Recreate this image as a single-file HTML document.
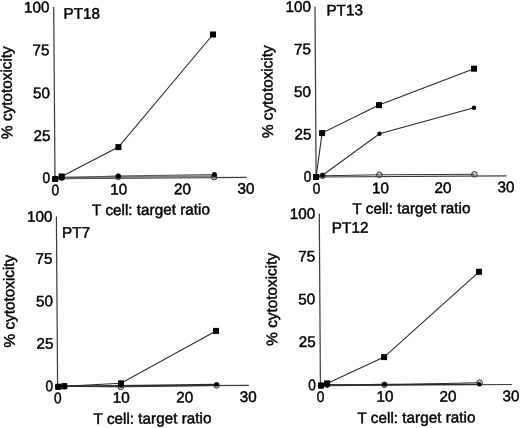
<!DOCTYPE html>
<html><head><meta charset="utf-8"><style>
html,body{margin:0;padding:0;background:#fff;}
svg{display:block;}
text{font-family:"Liberation Sans",sans-serif;font-size:15.3px;fill:#000;stroke:#000;stroke-width:0.45;}
.ax{stroke:#3a3a3a;stroke-width:1.2;fill:none;}
.ln{stroke:#2a2a2a;stroke-width:1.1;fill:none;}
.oc{fill:rgba(120,120,120,0.35);stroke:#333;stroke-width:1;}
.lno{stroke:#333;stroke-width:1.0;fill:none;}
.m{fill:#000;}
</style></head><body>
<svg width="520" height="428" viewBox="0 0 520 428">
<rect width="520" height="428" fill="#fff"/>
<defs><filter id="bl" x="0" y="0" width="1" height="1"><feGaussianBlur stdDeviation="0.35"/></filter></defs>
<g filter="url(#bl)">
<line x1="53.7" y1="7" x2="55" y2="178.8" class="ax"/>
<line x1="55" y1="178.7" x2="246.7" y2="177.4" class="ax"/>
<polyline points="55.2,178.6 61.6,177.6 118.3,176.9 214.1,176.3" class="lno" style="stroke-width:2.2;stroke:#808080"/>
<circle cx="55.2" cy="178.9" r="2.8" class="oc"/>
<circle cx="61.6" cy="177.6" r="2.8" class="oc"/>
<circle cx="118.3" cy="176.9" r="2.8" class="oc"/>
<circle cx="214.1" cy="177.2" r="2.8" class="oc"/>
<polyline points="55.2,178.6 61.6,178 118.3,176 214.4,174.5" class="ln" style="stroke:#555"/>
<circle cx="55.2" cy="178.6" r="2.5" class="m"/>
<circle cx="61.6" cy="178" r="2.5" class="m"/>
<circle cx="118.3" cy="176" r="2.5" class="m"/>
<circle cx="214.4" cy="174.5" r="2.5" class="m"/>
<polyline points="55.2,179 61.7,176.5 118.4,147.1 213,34.5" class="ln"/>
<rect x="52.2" y="176" width="6.0" height="6.0" class="m"/>
<rect x="58.7" y="173.5" width="6.0" height="6.0" class="m"/>
<rect x="115.4" y="144.1" width="6.0" height="6.0" class="m"/>
<rect x="210" y="31.5" width="6.0" height="6.0" class="m"/>
<text x="0" y="0" text-anchor="end" transform="translate(49.6 12.3) rotate(-0.38) scale(1.0 1)">100</text>
<text x="0" y="0" text-anchor="end" transform="translate(49.6 55.1) rotate(-0.38) scale(1.0 1)">75</text>
<text x="0" y="0" text-anchor="end" transform="translate(49.9 98.1) rotate(-0.38) scale(1.0 1)">50</text>
<text x="0" y="0" text-anchor="end" transform="translate(50.45 140.9) rotate(-0.38) scale(1.0 1)">25</text>
<text x="0" y="0" text-anchor="end" transform="translate(50.1 183) rotate(-0.38) scale(0.9 1)">0</text>
<text x="0" y="0" text-anchor="middle" transform="translate(55.3 195.3) rotate(-0.38) scale(0.9 1)">0</text>
<text x="0" y="0" text-anchor="middle" transform="translate(118.8 194.5) rotate(-0.38) scale(1.0 1)">10</text>
<text x="0" y="0" text-anchor="middle" transform="translate(182.45 194.3) rotate(-0.38) scale(1.0 1)">20</text>
<text x="0" y="0" text-anchor="middle" transform="translate(246.1 193.8) rotate(-0.38) scale(1.0 1)">30</text>
<text x="63.45" y="18.85" transform="rotate(-0.38 63.45 18.85)">PT18</text>
<text x="92.1" y="215.3" transform="rotate(-0.38 92.1 215.3)">T cell: target ratio</text>
<text x="0" y="0" text-anchor="middle" transform="translate(11.8 92.6) rotate(-90.5)">% cytotoxicity</text>
<line x1="315" y1="6.8" x2="316.1" y2="177" class="ax"/>
<line x1="316.1" y1="177" x2="506.5" y2="175.8" class="ax"/>
<polyline points="316.1,177 322.6,175.8 379.4,174.8 474.4,174.3" class="lno"/>
<circle cx="316.1" cy="177" r="2.8" class="oc"/>
<circle cx="322.6" cy="175.8" r="2.8" class="oc"/>
<circle cx="379.4" cy="174.8" r="2.8" class="oc"/>
<circle cx="474.4" cy="174.3" r="2.8" class="oc"/>
<polyline points="316.1,177 322.6,175.3 379.5,133.8 474,107.7" class="ln"/>
<circle cx="316.1" cy="177" r="2.2" class="m"/>
<circle cx="322.6" cy="175.3" r="2.2" class="m"/>
<circle cx="379.5" cy="133.8" r="2.2" class="m"/>
<circle cx="474" cy="107.7" r="2.2" class="m"/>
<polyline points="316.1,177 322.1,133.1 379,105.1 474,68.7" class="ln"/>
<rect x="313.1" y="174" width="6.0" height="6.0" class="m"/>
<rect x="319.1" y="130.1" width="6.0" height="6.0" class="m"/>
<rect x="376" y="102.1" width="6.0" height="6.0" class="m"/>
<rect x="471" y="65.7" width="6.0" height="6.0" class="m"/>
<text x="0" y="0" text-anchor="end" transform="translate(311 11.8) rotate(-0.38) scale(1.0 1)">100</text>
<text x="0" y="0" text-anchor="end" transform="translate(311 54.3) rotate(-0.38) scale(1.0 1)">75</text>
<text x="0" y="0" text-anchor="end" transform="translate(311 96.9) rotate(-0.38) scale(1.0 1)">50</text>
<text x="0" y="0" text-anchor="end" transform="translate(311.6 139.5) rotate(-0.38) scale(1.0 1)">25</text>
<text x="0" y="0" text-anchor="end" transform="translate(311.45 181.8) rotate(-0.38) scale(0.9 1)">0</text>
<text x="0" y="0" text-anchor="middle" transform="translate(316.5 193.8) rotate(-0.38) scale(0.9 1)">0</text>
<text x="0" y="0" text-anchor="middle" transform="translate(380.5 193.3) rotate(-0.38) scale(1.0 1)">10</text>
<text x="0" y="0" text-anchor="middle" transform="translate(443 193) rotate(-0.38) scale(1.0 1)">20</text>
<text x="0" y="0" text-anchor="middle" transform="translate(505.9 192.3) rotate(-0.38) scale(1.0 1)">30</text>
<text x="326.4" y="15.5" transform="rotate(-0.38 326.4 15.5)">PT13</text>
<text x="352.5" y="213.9" transform="rotate(-0.38 352.5 213.9)">T cell: target ratio</text>
<text x="0" y="0" text-anchor="middle" transform="translate(272.6 91.7) rotate(-90.5)">% cytotoxicity</text>
<line x1="56.4" y1="216.5" x2="57.6" y2="386.6" class="ax"/>
<line x1="57.6" y1="386.4" x2="248.8" y2="385.3" class="ax"/>
<polyline points="58.2,386.8 64.3,386.3 120.8,386.9 216.6,385.4" class="lno"/>
<circle cx="58.2" cy="386.8" r="2.8" class="oc"/>
<circle cx="64.3" cy="386.3" r="2.8" class="oc"/>
<circle cx="120.8" cy="386.9" r="2.8" class="oc"/>
<circle cx="216.6" cy="385.4" r="2.8" class="oc"/>
<polyline points="58.2,386.6 64.3,386.2 120.8,385.6 216.6,384.4" class="ln"/>
<circle cx="58.2" cy="386.6" r="2.2" class="m"/>
<circle cx="64.3" cy="386.2" r="2.2" class="m"/>
<circle cx="120.8" cy="385.6" r="2.2" class="m"/>
<circle cx="216.6" cy="384.4" r="2.2" class="m"/>
<polyline points="58.2,386.8 64.3,386.2 121,383.3 216,330.9" class="ln"/>
<rect x="55.2" y="383.8" width="6.0" height="6.0" class="m"/>
<rect x="61.3" y="383.2" width="6.0" height="6.0" class="m"/>
<rect x="118" y="380.3" width="6.0" height="6.0" class="m"/>
<rect x="213" y="327.9" width="6.0" height="6.0" class="m"/>
<text x="0" y="0" text-anchor="end" transform="translate(52.6 221.7) rotate(-0.38) scale(1.0 1)">100</text>
<text x="0" y="0" text-anchor="end" transform="translate(52.6 263.7) rotate(-0.38) scale(1.0 1)">75</text>
<text x="0" y="0" text-anchor="end" transform="translate(53.1 306.3) rotate(-0.38) scale(1.0 1)">50</text>
<text x="0" y="0" text-anchor="end" transform="translate(53.45 348.6) rotate(-0.38) scale(1.0 1)">25</text>
<text x="0" y="0" text-anchor="end" transform="translate(53.15 391.25) rotate(-0.38) scale(0.9 1)">0</text>
<text x="0" y="0" text-anchor="middle" transform="translate(57.8 403.2) rotate(-0.38) scale(0.9 1)">0</text>
<text x="0" y="0" text-anchor="middle" transform="translate(121.3 402.7) rotate(-0.38) scale(1.0 1)">10</text>
<text x="0" y="0" text-anchor="middle" transform="translate(184.8 402.4) rotate(-0.38) scale(1.0 1)">20</text>
<text x="0" y="0" text-anchor="middle" transform="translate(248.2 402) rotate(-0.38) scale(1.0 1)">30</text>
<text x="62.1" y="237.8" transform="rotate(-0.38 62.1 237.8)">PT7</text>
<text x="93.6" y="424" transform="rotate(-0.38 93.6 424)">T cell: target ratio</text>
<text x="0" y="0" text-anchor="middle" transform="translate(14.3 301.1) rotate(-90.5)">% cytotoxicity</text>
<line x1="319.3" y1="213.8" x2="320.4" y2="385.7" class="ax"/>
<line x1="320.4" y1="385.6" x2="511.8" y2="384.5" class="ax"/>
<polyline points="321,385.7 327.1,384.6 384.4,384.8 479.6,382.7" class="lno"/>
<circle cx="321" cy="385.7" r="2.8" class="oc"/>
<circle cx="327.1" cy="384.6" r="2.8" class="oc"/>
<circle cx="384.4" cy="384.8" r="2.8" class="oc"/>
<circle cx="479.6" cy="382.7" r="2.8" class="oc"/>
<polyline points="321,385.5 327.1,385.2 384.4,384.4 479.4,384.4" class="ln"/>
<circle cx="321" cy="385.5" r="2.2" class="m"/>
<circle cx="327.1" cy="385.2" r="2.2" class="m"/>
<circle cx="384.4" cy="384.4" r="2.2" class="m"/>
<circle cx="479.4" cy="384.4" r="2.2" class="m"/>
<polyline points="321,385.5 327.1,383.4 384.1,357.1 479,271.8" class="ln"/>
<rect x="318" y="382.5" width="6.0" height="6.0" class="m"/>
<rect x="324.1" y="380.4" width="6.0" height="6.0" class="m"/>
<rect x="381.1" y="354.1" width="6.0" height="6.0" class="m"/>
<rect x="476" y="268.8" width="6.0" height="6.0" class="m"/>
<text x="0" y="0" text-anchor="end" transform="translate(315.2 218.8) rotate(-0.38) scale(1.0 1)">100</text>
<text x="0" y="0" text-anchor="end" transform="translate(315.2 261.5) rotate(-0.38) scale(1.0 1)">75</text>
<text x="0" y="0" text-anchor="end" transform="translate(315.2 304.3) rotate(-0.38) scale(1.0 1)">50</text>
<text x="0" y="0" text-anchor="end" transform="translate(315.65 346.9) rotate(-0.38) scale(1.0 1)">25</text>
<text x="0" y="0" text-anchor="end" transform="translate(315.85 390.2) rotate(-0.38) scale(0.9 1)">0</text>
<text x="0" y="0" text-anchor="middle" transform="translate(320.5 401.95) rotate(-0.38) scale(0.9 1)">0</text>
<text x="0" y="0" text-anchor="middle" transform="translate(384.9 401.6) rotate(-0.38) scale(1.0 1)">10</text>
<text x="0" y="0" text-anchor="middle" transform="translate(447.9 401.6) rotate(-0.38) scale(1.0 1)">20</text>
<text x="0" y="0" text-anchor="middle" transform="translate(511.1 401.2) rotate(-0.38) scale(1.0 1)">30</text>
<text x="331.85" y="233" transform="rotate(-0.38 331.85 233)">PT12</text>
<text x="357.55" y="423.2" transform="rotate(-0.38 357.55 423.2)">T cell: target ratio</text>
<text x="0" y="0" text-anchor="middle" transform="translate(276.8 299.3) rotate(-90.5)">% cytotoxicity</text>
</g>
</svg>
</body></html>
